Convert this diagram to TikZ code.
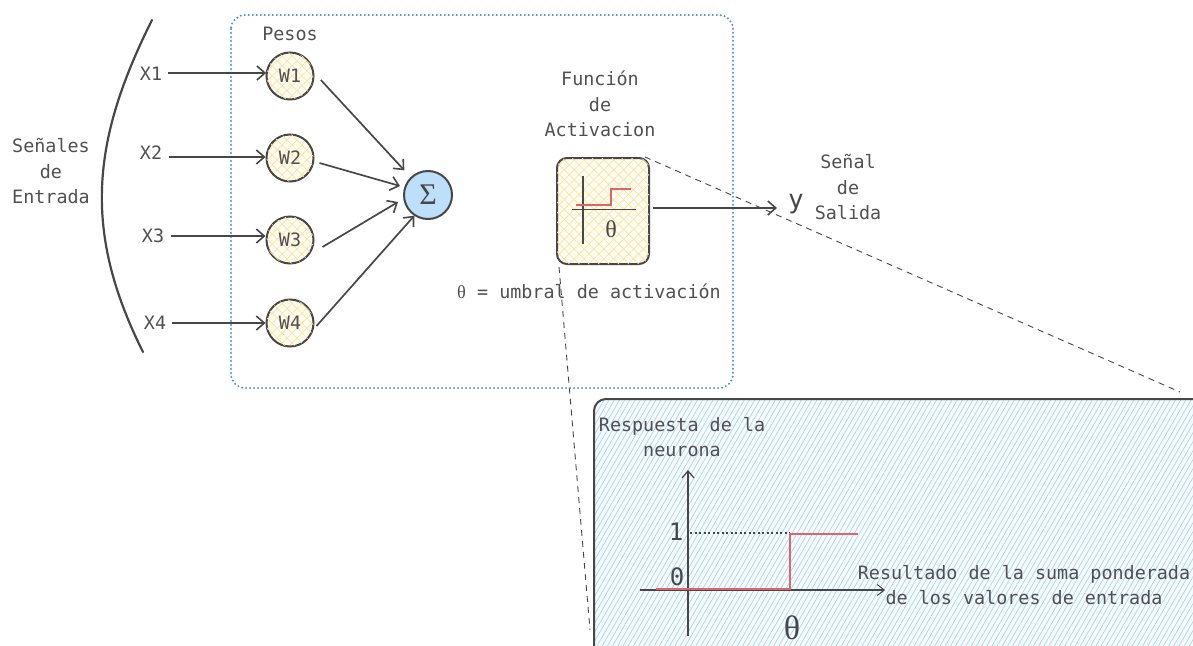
\documentclass[tikz,border=0pt]{standalone}
\usepackage{fontspec}
\setmonofont{DejaVu Sans Mono}
\newfontfamily\grk{Liberation Serif}
\usetikzlibrary{arrows.meta,patterns.meta}
\definecolor{ink}{HTML}{474747}
\definecolor{txt}{HTML}{505050}
\definecolor{dotblue}{HTML}{4A8FD4}
\definecolor{yhatch}{HTML}{FBE3A0}
\definecolor{ybg}{HTML}{FFFCF2}
\definecolor{sigfill}{HTML}{BDDFFA}
\definecolor{bhatch}{HTML}{A9CFEE}
\definecolor{bbg}{HTML}{F4FAFF}
\definecolor{redstep}{HTML}{E06666}
\tikzset{
  lbl/.style={text=txt, align=center, inner sep=0pt},
  wnode/.style={circle, draw=ink, line width=2pt, minimum size=47pt, inner sep=0pt, text=txt,
    preaction={fill=ybg},
    pattern={Lines[angle=45,distance=7pt,line width=0.7pt]}, pattern color=yhatch,
    postaction={pattern={Lines[angle=-45,distance=7pt,line width=0.7pt]}, pattern color=yhatch}},
  conn/.style={draw=ink, line width=1.7pt, -{Straight Barb[length=8pt,width=14pt,line width=1.6pt]}},
  dashconn/.style={draw=ink, line width=0.9pt, dash pattern=on 6pt off 5pt},
}
\begin{document}
\begin{tikzpicture}[x=1pt,y=-1pt, font=\ttfamily\fontsize{18.4}{25.5}\selectfont]
\useasboundingbox (0,0) rectangle (1193,645);
\clip (0,0) rectangle (1193,645);

% dashed zoom lines (behind)
\coordinate (zA) at (645,157);
\coordinate (zB) at (1180,392);
\coordinate (zC) at (559,267);
\coordinate (zD) at (590,630);
\draw[dashconn] (zA) -- (zB);
\draw[dashconn] (zC) -- (zD);

% container
\draw[dotblue, line width=2.2pt, dash pattern=on 0pt off 4pt, line cap=round, rounded corners=14pt]
  (231,15) rectangle (733,388);

% bracket
\draw[ink, line width=2.2pt, line cap=round] (152,20) .. controls (92,140) and (82,230) .. (143,352);
\node[lbl] (senales) at (51,171) {Señales\\de\\Entrada};

% inputs
\node[lbl] (x1) at (151,74) {X1};
\node[lbl] (x2) at (151,153) {X2};
\node[lbl] (x3) at (153,236) {X3};
\node[lbl] (x4) at (155,323) {X4};

\node[lbl] (pesos) at (290,34) {Pesos};
\node[wnode] (w1) at (290,76) {W1};
\node[wnode] (w2) at (290,158) {W2};
\node[wnode] (w3) at (290,240) {W3};
\node[wnode] (w4) at (290,323) {W4};

\draw[conn] ([xshift=6pt]x1.east |- 0,73) -- (w1.west |- 0,73);
\draw[conn] ([xshift=7pt]x2.east |- 0,157) -- (w2.west |- 0,157);
\draw[conn] ([xshift=7pt]x3.east |- 0,236) -- (w3.west |- 0,236);
\draw[conn] ([xshift=6pt]x4.east |- 0,323) -- (w4.west |- 0,323);

\node[circle, draw=ink, line width=2pt, fill=sigfill, minimum size=48pt, inner sep=0pt, text=ink] (sum) at (428,195)
  {\grk\fontsize{30}{30}\selectfont Σ};

\draw[conn] ([shift={(7,4)}]w1.east) -- ([shift={(-6,-7)}]sum.north west);
\draw[conn] ([shift={(5,5)}]w2.east) -- ([shift={(-3,-9)}]sum.west);
\draw[conn] ([shift={(8,7)}]w3.east) -- ([shift={(-5,7)}]sum.west);
\draw[conn] ([shift={(2,3)}]w4.east) -- ([shift={(4,3)}]sum.south west);

% activation box
\node[draw=ink, line width=2pt, rounded corners=10pt, minimum width=92pt, minimum height=106pt,
  preaction={fill=ybg},
  pattern={Lines[angle=45,distance=7pt,line width=0.7pt]}, pattern color=yhatch,
  postaction={pattern={Lines[angle=-45,distance=7pt,line width=0.7pt]}, pattern color=yhatch}]
  (act) at (603,211) {};
\draw[ink, line width=1.2pt] (583,176) -- (583,244);
\draw[ink, line width=1pt] (572,209) -- (636,209);
\draw[redstep, line width=1.3pt] (576,205) -- (611,205) -- (611,189) -- (631,189);
\node[inner sep=0pt, text=ink] (acttheta) at (611,229) {\grk\fontsize{24}{24}\selectfont θ};

\node[lbl] (funcion) at (600,104) {Función\\de\\Activacion};
\node[lbl] (umbral) at (589,291) {{\grk θ} = umbral de activación};

\node[inner sep=0pt, text=ink] (y) at (796,204) {\fontsize{26}{26}\selectfont y};
\node[lbl] (salida) at (848,187) {Señal\\de\\Salida};
\draw[conn] (act.east |- 0,208) ++(3,0) -- (777,208);

% zoom box
\draw[ink, line width=2pt, rounded corners=12pt,
  preaction={fill=bbg},
  pattern={Lines[angle=60,distance=4.5pt,line width=0.6pt]}, pattern color=bhatch]
  (594,399) rectangle (1215,670);

\node[lbl] (resp) at (682,437) {Respuesta de la\\neurona};
\coordinate (yb) at (688,636);
\coordinate (yt) at (688,470);
\coordinate (xl) at (640,590);
\coordinate (xr) at (885,590);
\draw[ink, line width=1.6pt, -{Straight Barb[length=7pt,width=12pt,line width=1.2pt]}] (yb) -- (yt);
\draw[ink, line width=1.2pt, -{Straight Barb[length=7pt,width=11pt,line width=1pt]}] (xl) -- (xr);
\node[inner sep=0pt, text=ink] (one) at (676,532) {\fontsize{24}{24}\selectfont 1};
\node[inner sep=0pt, text=ink] (zero) at (677,577) {\fontsize{24}{24}\selectfont 0};
\draw[ink, line width=1.3pt, dash pattern=on 2pt off 2.5pt] (690,533) -- (790,533);
\draw[redstep, line width=2.2pt] (656,589) -- (790,589) -- (790,534) -- (858,534);
\node[inner sep=0pt, text=ink] (btheta) at (792,628) {\grk\fontsize{34}{34}\selectfont θ};
\node[lbl] (result) at (1024,585) {Resultado de la suma ponderada\\ de los valores de entrada};
\end{tikzpicture}
\end{document}
